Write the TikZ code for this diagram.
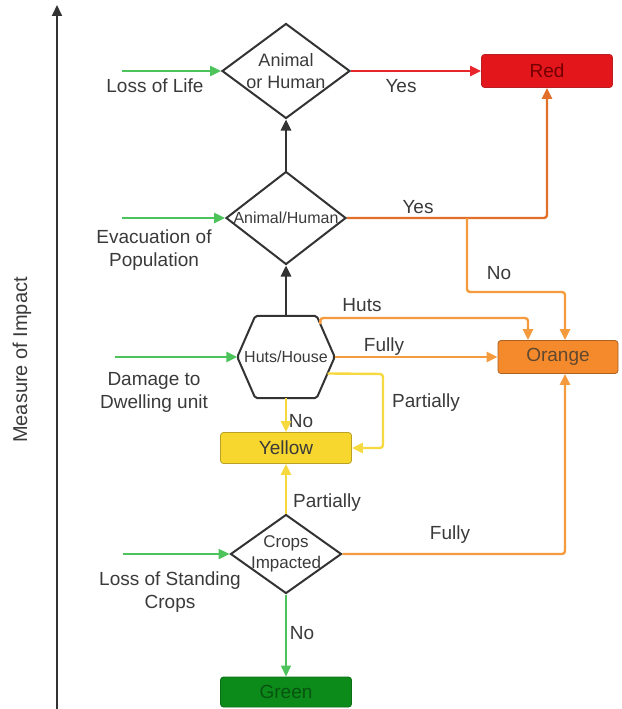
\documentclass[tikz,border=0pt]{standalone}
\usepackage{fontspec}
\setmainfont{Liberation Sans}
\usepackage{tikz}
\usetikzlibrary{shapes,arrows.meta,backgrounds,calc}
\usetikzlibrary{positioning, shapes.geometric}
\definecolor{txtgray}{HTML}{3A3A3A}
\definecolor{lineblack}{HTML}{333333}
\definecolor{feedgreen}{HTML}{4CC35B}
\definecolor{redline}{HTML}{E8252B}
\definecolor{redfill}{HTML}{E3161C}
\definecolor{darkorange}{HTML}{E2702A}
\definecolor{lightorange}{HTML}{F59B3E}
\definecolor{orangefill}{HTML}{F58A2C}
\definecolor{yellowline}{HTML}{F6D93F}
\definecolor{yellowfill}{HTML}{F7D72E}
\definecolor{greenfill}{HTML}{0D8B1A}
\tikzset{
  decision/.style={ draw=lineblack, diamond, line width=2pt, inner sep=0pt }
}
\tikzset{
  levelbox/.style={ draw, rounded corners=3pt, line width=0.8pt, minimum width=131pt, minimum height=33pt, font=\fontsize{19}{22}\selectfont }
}
\tikzset{
  txt/.style={ text=txtgray, font=\fontsize{19}{23}\selectfont, align=center, inner sep=0pt }
}
\tikzset{
  inner/.style={ text=txtgray, align=center, inner sep=0pt }
}
\tikzset{
  tip/.style={ -{Triangle[length=11pt,width=10pt]} }
}
\tikzset{
  link/.style={ tip, line width=2.4pt, rounded corners=3pt }
}

\begin{document}
\begin{tikzpicture}[x=1pt, y=-1pt]
  \useasboundingbox (0,0) rectangle (621,709);

  % axis
  \coordinate (axbot) at (57,709);
  \coordinate (axtop) at (57,5);
  \node[txt, rotate=90, font=\fontsize{20}{24}\selectfont] (measure) at (22,360) {Measure of Impact};

  % decisions
  \node[decision, minimum width=128pt, minimum height=95pt,
        label={[inner, font=\fontsize{18}{22}\selectfont]center:Animal\\or Human}] (life) at (286,71) {};
  \node[decision, minimum width=120pt, minimum height=93pt,
        label={[inner, font=\fontsize{16}{19}\selectfont]center:Animal/Human}] (evac) at (286,218) {};
  \node[inner, minimum width=97pt, minimum height=82pt, font=\fontsize{16}{19}\selectfont] (house) at (286,357) {Huts/House};
  \node[decision, minimum width=111pt, minimum height=79pt,
        label={[inner, font=\fontsize{17}{21}\selectfont]center:Crops\\Impacted}] (crops) at (286,554) {};
  \draw[lineblack, line width=2pt, rounded corners=2pt]
    (house.west) -- ([xshift=18pt]house.north west) -- ([xshift=-18pt]house.north east)
    -- (house.east) -- ([xshift=-18pt]house.south east) -- ([xshift=18pt]house.south west) -- cycle;

  % levels
  \node[levelbox, draw=redline!80!black, fill=redfill, text=red!45!black] (red) at (547,71) {Red};
  \node[levelbox, draw=orangefill!70!black, fill=orangefill, text=txtgray!80!orange, minimum width=120pt] (orange) at (558,357) {Orange};
  \node[levelbox, draw=yellowfill!75!black, fill=yellowfill, text=txtgray, minimum height=31pt] (yellow) at (286,448) {Yellow};
  \node[levelbox, draw=greenfill!80!black, fill=greenfill, text=greenfill!60!black, minimum height=30pt] (green) at (286,692) {Green};

  % inputs
  \coordinate (lifein) at (122,71);
  \coordinate (evacin) at (122,218);
  \coordinate (housein) at (115,357);
  \coordinate (cropsin) at (123,554);
  \node[txt] (lifetxt) at (155,86) {Loss of Life};
  \node[txt] (evactxt) at (154,250) {Evacuation of\\Population};
  \node[txt] (housetxt) at (154,392) {Damage to\\Dwelling unit};
  \node[txt] (cropstxt) at (170,592) {Loss of Standing\\Crops};

  % branch points
  \coordinate (br) at (467,218);
  \coordinate (nobend) at (565,292);
  \coordinate (hutstart) at ($(house.east)!.8!([xshift=-18pt]house.north east)$);
  \coordinate (hutbend) at (528,318);
  \coordinate (partstart) at ($(house.east)!.4!([xshift=-18pt]house.south east)$);
  \coordinate (partbend) at (383,374);

  % edge labels
  \node[txt] (yes1) at (401,86) {Yes};
  \node[txt] (yes2) at (418,207) {Yes};
  \node[txt] (no1) at (499,273) {No};
  \node[txt] (huts) at (362,305) {Huts};
  \node[txt] (fully1) at (384,347) {Fully};
  \node[txt] (part1) at (426,403) {Partially};
  \node[txt] (no2) at (301,421) {No};
  \node[txt] (part2) at (327,503) {Partially};
  \node[txt] (fully2) at (450,535) {Fully};
  \node[txt] (no3) at (302,633) {No};

  \begin{scope}[link]
    \draw[lineblack, line width=2pt] (axbot) -- (axtop);
    \draw[feedgreen] (lifein) -- (life.west);
    \draw[feedgreen] (evacin) -- (evac.west);
    \draw[feedgreen] (housein) -- (house.west);
    \draw[feedgreen] (cropsin) -- (crops.west);

    \draw[redline] (life.east) -- (red.west);
    \draw[lineblack, line width=2.6pt] (evac.north) -- (life.south);
    \draw[lineblack, line width=2.6pt] (house.north) -- (evac.south);

    \draw[darkorange] (evac.east) -| (red.south);
    \draw[lightorange] (br) |- (nobend) -- ([xshift=7pt]orange.north);
    \draw[lightorange] (hutstart) |- (hutbend) -- ([xshift=-30pt]orange.north);
    \draw[lightorange] (house.east) -- (orange.west);
    \draw[lightorange] (crops.east) -| ([xshift=7pt]orange.south);

    \draw[yellowline] (partstart) -- (partbend) |- (yellow.east);
    \draw[yellowline] (house.south) -- (yellow.north);
    \draw[yellowline] (crops.north) -- (yellow.south);
    \draw[feedgreen, line width=1.2pt] (crops.south) -- (green.north);
  \end{scope}
\end{tikzpicture}
\end{document}
